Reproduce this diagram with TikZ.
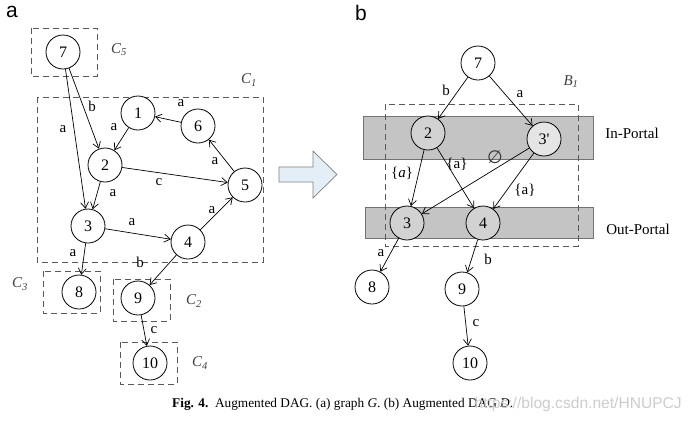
\documentclass[tikz,border=0pt]{standalone}
\usepackage{fontspec}
\setmainfont{Liberation Serif}
\newfontfamily\sansf{Liberation Sans}
\newfontfamily\dejavu{DejaVu Sans}
\usetikzlibrary{arrows.meta}
\definecolor{arrowfill}{HTML}{E3EEF7}
\definecolor{bandfill}{HTML}{C4C4C4}
\definecolor{pnodefill}{HTML}{D2D2D2}
\begin{document}
\begin{tikzpicture}[x=1pt,y=-1pt,
 vert/.style={circle,draw,line width=0.8pt,minimum size=34pt,inner sep=0pt,font=\fontsize{16}{16}\selectfont,fill=white},
 pvert/.style={vert,fill=pnodefill},
 lab/.style={font=\fontsize{15}{15}\selectfont,inner sep=0pt},
 clab/.style={font=\fontsize{15}{15}\selectfont\itshape,text=black!75,inner sep=0pt},
 grp/.style={draw=black!65,dash pattern=on 6pt off 4pt,line width=0.8pt},
 band/.style={draw=black!55,fill=bandfill,line width=0.6pt},
 arr/.style={-{Straight Barb[length=6pt,width=8pt]},line width=0.7pt},
 plab/.style={font=\sansf\fontsize{21}{21}\selectfont,inner sep=0pt},
]
\useasboundingbox (0,0) rectangle (692,424);

% ---------- panel a ----------
\node[plab] (pa) at (12,12) {a};
\draw[grp] (31,28) rectangle (97,76);
\draw[grp] (37,97) rectangle (263,262);
\draw[grp] (43,271) rectangle (100,313);
\draw[grp] (113,279) rectangle (170,321);
\draw[grp] (120,342) rectangle (177,384);
\node[clab] (lc5) at (119,50) {C\textsubscript{5}};
\node[clab] (lc1) at (249,80) {C\textsubscript{1}};
\node[clab] (lc3) at (20,284) {C\textsubscript{3}};
\node[clab] (lc2) at (194,301) {C\textsubscript{2}};
\node[clab] (lc4) at (200,363) {C\textsubscript{4}};

\node[vert] (a7) at (63,52) {7};
\node[vert] (a1) at (138,113) {1};
\node[vert] (a6) at (198,126) {6};
\node[vert] (a2) at (105,165) {2};
\node[vert] (a5) at (245,185) {5};
\node[vert] (a3) at (88,226) {3};
\node[vert] (a4) at (188,242) {4};
\node[vert] (a8) at (79,292) {8};
\node[vert] (a9) at (138,298) {9};
\node[vert] (a10) at (150,363) {10};

\draw[arr] (a7) -- (a2);
\draw[arr] (a7) -- (a3);
\draw[arr] (a1) -- (a2);
\draw[arr] (a6) -- (a1);
\draw[arr] (a5) -- (a6);
\draw[arr] (a2) -- (a5);
\draw[arr] (a2) -- (a3);
\draw[arr] (a3) -- (a4);
\draw[arr] (a4) -- (a5);
\draw[arr] (a3) -- (a8);
\draw[arr] (a4) -- (a9);
\draw[arr] (a9) -- (a10);

\node[lab] (e72) at (92,106) {b};
\node[lab] (e73) at (63,129) {a};
\node[lab] (e12) at (114,127) {a};
\node[lab] (e61) at (181,103) {a};
\node[lab] (e56) at (215,161) {a};
\node[lab] (e25) at (159,182) {c};
\node[lab] (e23) at (113,193) {a};
\node[lab] (e34) at (132,222) {a};
\node[lab] (e45) at (212,210) {a};
\node[lab] (e38) at (73,253) {a};
\node[lab] (e49) at (140,262) {b};
\node[lab] (e910) at (154,330) {c};

% ---------- transition arrow ----------
\draw[draw=black!50,fill=arrowfill,line width=0.7pt]
  (279,167) -- (313,167) -- (313,151) -- (337,174.5) -- (313,198) -- (313,182) -- (279,182) -- cycle;

% ---------- panel b ----------
\node[plab] (pb) at (361,13) {b};
\draw[band] (363,116) rectangle (593,159);
\draw[band] (365,207) rectangle (593,238);
\draw[grp] (385,104) rectangle (578,246);
\node[lab] (lin) at (632,133) {In-Portal};
\node[lab] (lout) at (638,229) {Out-Portal};
\node[clab] (lb1) at (571,82) {B\textsubscript{1}};

\node[vert] (b7) at (478,63) {7};
\node[pvert] (b2) at (428,133) {2};
\node[pvert,fill=gray!20] (b3p) at (544,139) {3\textquotesingle};
\node[pvert] (b3) at (407,223) {3};
\node[pvert] (b4) at (483,223) {4};
\node[vert] (b8) at (372,287) {8};
\node[vert] (b9) at (462,289) {9};
\node[vert] (b10) at (470,363) {10};

\draw[arr] (b7) -- (b2);
\draw[arr] (b7) -- (b3p);
\draw[arr] (b2) -- (b3);
\draw[arr] (b2) -- (b4);
\draw[arr] (b3p) -- (b3);
\draw[arr] (b3p) -- (b4);
\draw[arr] (b3) -- (b8);
\draw[arr] (b4) -- (b9);
\draw[arr] (b9) -- (b10);

\node[lab] (f72) at (446,90) {b};
\node[lab] (f73) at (520,94) {a};
\node[lab] (f23) at (402,173) {\{\textit{a}\}};
\node[lab] (f24) at (457,164) {\{a\}};
\node[lab,font=\dejavu\fontsize{18}{18}\selectfont,text=black!80] (f33) at (495,157) {∅};
\node[lab] (f34) at (525,190) {\{a\}};
\node[lab] (f38) at (381,253) {a};
\node[lab] (f49) at (488,259) {b};
\node[lab] (f910) at (476,323) {c};

% ---------- caption ----------
\node[font=\fontsize{13.3}{14}\selectfont,inner sep=0pt,anchor=west] (cap) at (172,404)
  {\textbf{Fig. 4.}\ \ Augmented DAG. (a) graph \textit{G}. (b) Augmented DAG \textit{D}.};
\node[font=\sansf\fontsize{15.6}{16}\selectfont,text=black!20,inner sep=0pt,anchor=east] (wm) at (682,404)
  {https://blog.csdn.net/HNUPCJ};
\end{tikzpicture}
\end{document}
